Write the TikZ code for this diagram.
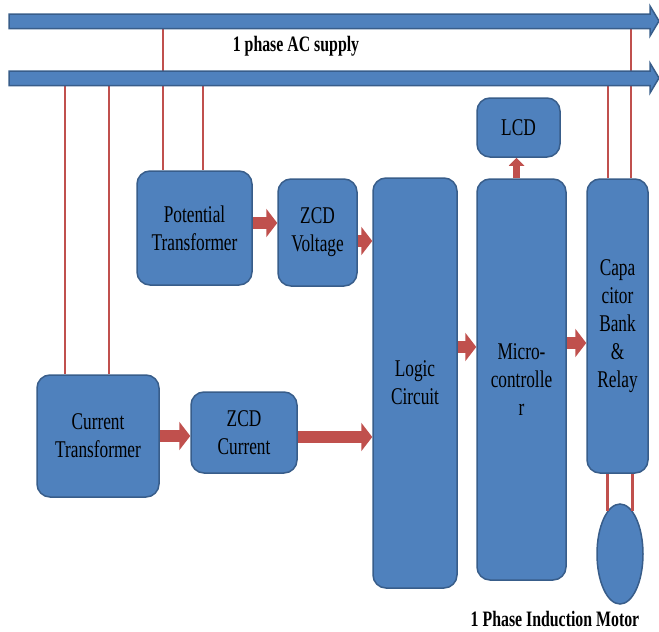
\documentclass[tikz,border=0pt]{standalone}
\usepackage{fontspec}
\setmainfont{Liberation Serif}[FakeStretch=0.72]
\usetikzlibrary{arrows.meta,shapes.geometric}

\definecolor{boxblue}{HTML}{4F81BD}
\definecolor{boxedge}{HTML}{385D8A}
\definecolor{wirered}{HTML}{C0504D}

\tikzstyle{blockdiagram}=[%
	blockbox/.style={%
		fill=boxblue,
		draw=boxedge,
		line width=1.5pt,
		rounded corners=13pt,
		align=center,
		inner sep=0pt,
		font=\fontsize{24}{28}\selectfont
	},%
	motorshape/.style={%
		ellipse,
		fill=boxblue,
		draw=boxedge,
		line width=1.5pt,
		inner sep=0pt
	},%
	caption/.style={%
		font=\fontsize{22}{26}\selectfont\bfseries
	},%
	bus/.style={%
		fill=boxblue,
		draw=boxedge,
		line width=1.5pt
	},%
	tap/.style={%
		draw=wirered,
		line width=2.5pt
	},%
	blockarrow/.style={%
		draw=wirered,
		line width=12pt,
		-{Triangle[length=11pt,width=28pt]}
	},%
	smallarrow/.style={%
		draw=wirered,
		line width=7pt,
		-{Triangle[length=8pt,width=15pt]}
	}
]

\begin{document}
\begin{tikzpicture}[
	x=1pt,
	y=-1pt,
	blockdiagram
]
	\useasboundingbox (0,0) rectangle (659,632);

	\node[blockbox, minimum width=115pt, minimum height=114pt] (pt) at (194.5,228) {Potential\\Transformer};
	\node[blockbox, minimum width=79pt, minimum height=107pt] (zcdv) at (317.5,232.5) {ZCD\\Voltage};
	\node[blockbox, minimum width=122pt, minimum height=122pt] (ct) at (98,436) {Current\\Transformer};
	\node[blockbox, minimum width=106pt, minimum height=81pt] (zcdc) at (244,432.5) {ZCD\\Current};
	\node[blockbox, minimum width=84pt, minimum height=410pt] (logic) at (415,383) {Logic\\Circuit};
	\node[blockbox, minimum width=89pt, minimum height=401pt] (micro) at (521.5,379.5) {Micro-\\controlle\\r};
	\node[blockbox, minimum width=83pt, minimum height=59pt] (lcd) at (518.5,127.5) {LCD};
	\node[blockbox, minimum width=61pt, minimum height=294pt] (cap) at (617.5,326) {Capa\\citor\\Bank\\\&\\Relay};
	\node[motorshape, minimum width=46pt, minimum height=100pt] (motor) at (620,554) {};

	\node[caption] (supply) at (296,46) {1 phase AC supply};
	\node[caption] (motorlabel) at (555,619) {1 Phase Induction Motor};

	% supply lines
	\coordinate (busA) at (0,21);
	\coordinate (busB) at (0,78);
	\foreach \x/\b/\n in {65/busB/ct, 109/busB/ct, 163/busA/pt, 203/busB/pt, 608/busB/cap, 631/busA/cap} {
		\draw[tap] (\x,0 |- \b) -- (\x,0 |- \n.north);
	}
	\draw[tap] (motor.106 |- cap.south) -- (motor.106);
	\draw[tap] (motor.74 |- cap.south) -- (motor.74);

	\draw[bus] (9,14) -- (650,14) -- (650,6) -- (659,21) -- (650,36) -- (650,28.5) -- (9,28.5) -- cycle;
	\draw[bus] (9,71) -- (650,71) -- (650,63) -- (659,78) -- (650,93) -- (650,85.5) -- (9,85.5) -- cycle;

	% signal flow
	\draw[blockarrow] ([yshift=5pt]pt.east) -- ([yshift=5pt]pt.east -| zcdv.west);
	\draw[blockarrow] ([yshift=-8.5pt]zcdv.east) -- ([yshift=-8.5pt]zcdv.east -| logic.west);
	\draw[blockarrow] (ct.east) -- (ct.east -| zcdc.west);
	\draw[blockarrow] ([yshift=-4.5pt]zcdc.east) -- ([yshift=-4.5pt]zcdc.east -| logic.west);
	\draw[blockarrow] ([yshift=36pt]logic.east) -- ([yshift=36pt]logic.east -| micro.west);
	\draw[blockarrow] ([yshift=36.5pt]micro.east) -- ([yshift=36.5pt]micro.east -| cap.west);
	\draw[smallarrow] ([xshift=-5pt]micro.north) -- ([xshift=-5pt]micro.north |- lcd.south);
\end{tikzpicture}
\end{document}
